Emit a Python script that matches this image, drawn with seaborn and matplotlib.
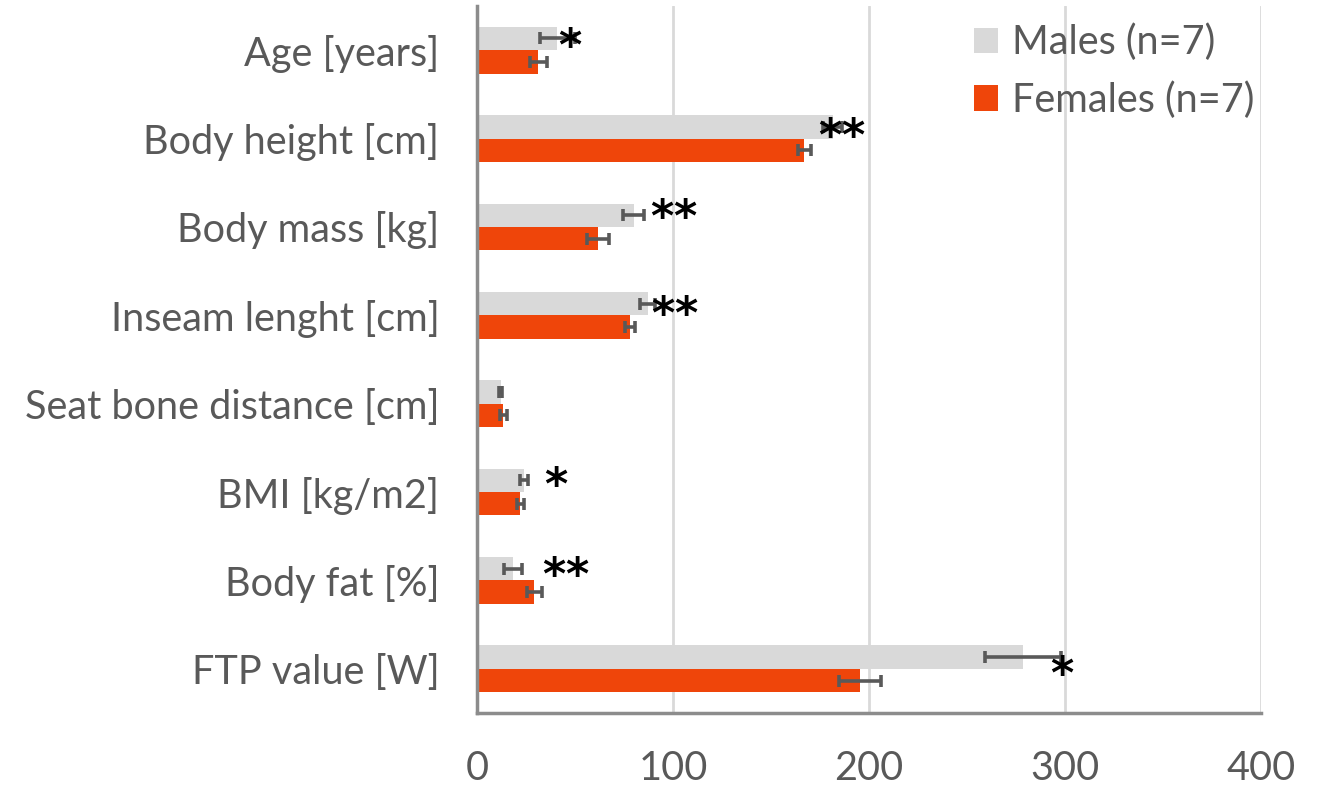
import numpy as np
import pandas as pd
import matplotlib
matplotlib.use("Agg")
import matplotlib.pyplot as plt
import seaborn as sns

# Anthropometric and performance characteristics by sex (mean and SD)
variables = ["Age [years]", "Body height [cm]", "Body mass [kg]",
             "Inseam lenght [cm]", "Seat bone distance [cm]", "BMI [kg/m2]",
             "Body fat [%]", "FTP value [W]"]
males_mean = [41.0, 181.5, 80.0, 87.0, 12.0, 24.0, 18.5, 278.5]
males_sd = [9.0, 4.8, 5.4, 3.7, 0.7, 2.0, 4.5, 19.3]
females_mean = [31.2, 167.0, 61.6, 78.0, 13.3, 22.1, 29.2, 195.4]
females_sd = [4.4, 3.4, 5.6, 2.5, 1.8, 1.8, 3.8, 10.6]
group_labels = ["Males (n=7)", "Females (n=7)"]

# Significance markers: number of asterisks, x centre, vertical offset
sig_count = [1, 2, 2, 2, 0, 1, 2, 1]
sig_x = [47.4, 185.7, 100.0, 100.6, 0.0, 40.3, 44.9, 298.3]
sig_dy = [-0.03, -0.01, -0.09, 0.005, 0.0, -0.06, -0.05, 0.08]
star_step = 11.8

male_color = "#D9D9D9"
female_color = "#EF450A"
err_color = "#595959"
text_color = "#595959"

sns.set_theme(style="white")
plt.rcParams["font.family"] = ["Lato", "DejaVu Sans"]

df = pd.DataFrame({
    "variable": variables * 2,
    "value": males_mean + females_mean,
    "group": [group_labels[0]] * len(variables) + [group_labels[1]] * len(variables),
})

fig = plt.figure(figsize=(13.22, 7.85), dpi=100)
ax = fig.add_axes([477 / 1322, 72 / 785, (1261 - 477) / 1322, (713 - 6) / 785])

bar_width = 0.53
sns.barplot(data=df, y="variable", x="value", hue="group", orient="h",
            order=variables, hue_order=group_labels,
            palette=[male_color, female_color], width=bar_width,
            errorbar=None, saturation=1, ax=ax, linewidth=0)

pos = np.arange(len(variables))
off = bar_width / 4
ax.errorbar(males_mean, pos - off, xerr=males_sd, fmt="none", ecolor=err_color,
            elinewidth=2.6, capsize=4.3, capthick=2.6, zorder=3)
ax.errorbar(females_mean, pos + off, xerr=females_sd, fmt="none", ecolor=err_color,
            elinewidth=2.6, capsize=4.3, capthick=2.6, zorder=3)

for i, (n, x, dy) in enumerate(zip(sig_count, sig_x, sig_dy)):
    for k in range(n):
        xs = x + (k - (n - 1) / 2) * star_step
        ax.text(xs, i + dy, "*", ha="center", va="center", fontsize=32,
                fontweight="bold", color="black", fontfamily="DejaVu Sans",
                zorder=4)

ax.set_xlim(0, 400)
ax.set_ylim(len(variables) - 0.5, -0.5)
ax.set_xticks([0, 100, 200, 300, 400])
ax.xaxis.grid(True, color="#D9D9D9", linewidth=2)
ax.yaxis.grid(False)
ax.set_axisbelow(True)
ax.set_xlabel("")
ax.set_ylabel("")
for side in ["top", "right"]:
    ax.spines[side].set_visible(False)
for side in ["left", "bottom"]:
    ax.spines[side].set_color("#8C8C8C")
    ax.spines[side].set_linewidth(2.5)
ax.tick_params(axis="both", length=0, labelsize=28.5, labelcolor=text_color)
ax.tick_params(axis="y", pad=27)
ax.tick_params(axis="x", pad=27)

leg = ax.legend(loc="upper left", bbox_to_anchor=(958 / 1322, 1 - 8 / 785),
                bbox_transform=fig.transFigure, frameon=False, fontsize=28.5,
                handlelength=0.62, handleheight=0.62, handletextpad=0.35,
                labelspacing=0.5, borderaxespad=0)
for txt in leg.get_texts():
    txt.set_color(text_color)

fig.savefig("out.png", dpi=100)
